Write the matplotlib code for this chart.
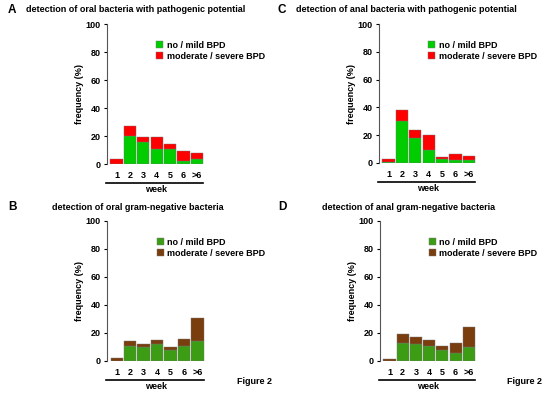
import matplotlib.pyplot as plt
import numpy as np

plt.rcParams['font.family'] = ['Liberation Sans', 'DejaVu Sans']
plt.rcParams['font.weight'] = 'bold'

weeks = ['1', '2', '3', '4', '5', '6', '>6']

# A: oral bacteria with pathogenic potential
a_mild = [0, 20, 16, 10.5, 10.5, 2.5, 3.5]
a_severe = [3.5, 7, 3, 8.5, 3.5, 6.5, 4.5]
# C: anal bacteria with pathogenic potential
c_mild = [1, 30, 18, 9, 3, 2, 2]
c_severe = [2, 8, 6, 11, 1, 4.5, 3]
# B: oral gram-negative bacteria
b_mild = [0, 11, 10, 12, 8, 11, 14]
b_severe = [2, 3, 2, 3, 2, 5, 17]
# D: anal gram-negative bacteria
d_mild = [0, 13, 12, 11, 8, 6, 10]
d_severe = [1.5, 6, 5, 4, 3, 7, 14]

panels = [
    ('A', 'detection of oral bacteria with pathogenic potential', a_mild, a_severe,
     [107, 24, 205, 164], '#00cc00', '#ff0000'),
    ('C', 'detection of anal bacteria with pathogenic potential', c_mild, c_severe,
     [379, 24, 477, 163], '#00cc00', '#ff0000'),
    ('B', 'detection of oral gram-negative bacteria', b_mild, b_severe,
     [107, 221, 206, 361], '#3c9c14', '#7a3e0e'),
    ('D', 'detection of anal gram-negative bacteria', d_mild, d_severe,
     [380, 221, 477, 361], '#3c9c14', '#7a3e0e'),
]
title_pos = {'A': (8, 26, 10), 'C': (278, 296, 10), 'B': (8, 52, 207), 'D': (278, 322, 207)}

W, H = 550, 399
fig = plt.figure(figsize=(5.5, 3.99), dpi=100)

for letter, title, mild, severe, box, cg, cr in panels:
    x0, y0, x1, y1 = box
    ax = fig.add_axes([x0 / W, 1 - y1 / H, (x1 - x0) / W, (y1 - y0) / H])
    x = np.arange(len(weeks))
    b1 = ax.bar(x, mild, width=0.92, color=cg, edgecolor='#777777', linewidth=0.3)
    b2 = ax.bar(x, severe, bottom=mild, width=0.92, color=cr, edgecolor='#777777', linewidth=0.3)
    ax.set_xlim(-0.72, 6.62)
    ax.set_ylim(0, 100)
    ax.set_yticks([0, 20, 40, 60, 80, 100])
    ax.set_xticks(x)
    ax.set_xticklabels(weeks)
    ax.tick_params(axis='x', length=0, pad=5, labelsize=6.5)
    ax.tick_params(axis='y', length=2.5, width=0.8, pad=2, labelsize=6.5)
    for s in ['top', 'right', 'bottom']:
        ax.spines[s].set_visible(False)
    ax.spines['left'].set_color('#555555')
    ax.set_ylabel('frequency (%)', fontsize=6.5, fontweight='bold', labelpad=1)
    ax.plot([-0.01, 0.98], [-0.135, -0.135], transform=ax.transAxes, color='black',
            lw=1.2, clip_on=False)
    ax.text(0.5, -0.185, 'week', transform=ax.transAxes, ha='center', va='center',
            fontsize=6.5, fontweight='bold')
    ax.legend([b1, b2], ['no / mild BPD', 'moderate / severe BPD'], loc='upper left',
              bbox_to_anchor=(0.5, 0.88), frameon=False, fontsize=6.5,
              handlelength=0.8, handleheight=0.8, handletextpad=0.4,
              labelspacing=0.25, borderaxespad=0, borderpad=0)
    lx, tx, ty = title_pos[letter]
    fig.text(lx / W, 1 - ty / H, letter, fontsize=8.5, fontweight='bold', va='center')
    fig.text(tx / W, 1 - ty / H, title, fontsize=6.45, fontweight='bold', va='center')

fig.text(237 / W, 1 - 381 / H, 'Figure 2', fontsize=6.5, fontweight='bold', va='center')
fig.text(507 / W, 1 - 381 / H, 'Figure 2', fontsize=6.5, fontweight='bold', va='center')

fig.savefig('out.png', dpi=100)
